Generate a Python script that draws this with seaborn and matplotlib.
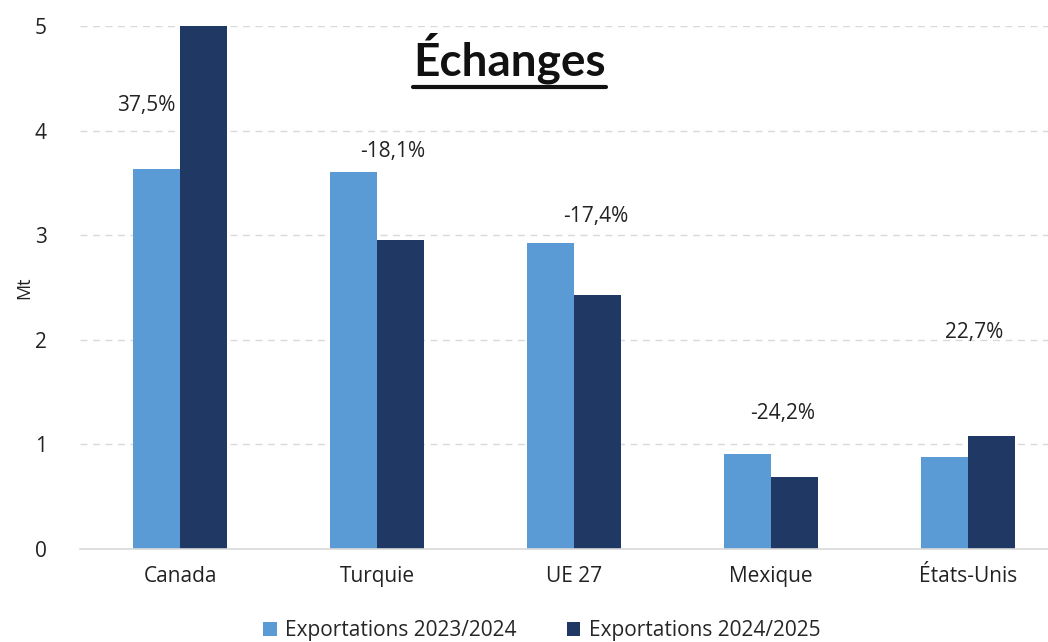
import matplotlib
matplotlib.use("Agg")
import matplotlib.pyplot as plt
from matplotlib.lines import Line2D
from matplotlib.patches import Patch
import pandas as pd
import seaborn as sns

# ---------------- data ----------------
pays = ["Canada", "Turquie", "UE 27", "Mexique", "États-Unis"]
series = ["Exportations 2023/2024", "Exportations 2024/2025"]
exp_2324 = [3.63, 3.60, 2.93, 0.91, 0.88]
exp_2425 = [5.00, 2.95, 2.43, 0.69, 1.08]
variations = ["37,5%", "-18,1%", "-17,4%", "-24,2%", "22,7%"]
# where each variation label sits (x offset from category, y in Mt)
label_dx = [-0.17, 0.08, 0.11, 0.06, 0.03]
label_y = [4.24, 3.80, 3.18, 1.30, 2.07]

df = pd.DataFrame({
    "pays": pays * 2,
    "serie": [series[0]] * 5 + [series[1]] * 5,
    "Mt": exp_2324 + exp_2425,
})

colors = ["#5B9BD5", "#1F3864"]

sns.set_style("white")
plt.rcParams["font.family"] = ["Open Sans", "DejaVu Sans"]

fig = plt.figure(figsize=(10.48, 6.42), dpi=100)
ax = fig.add_axes([0.0763, 0.1449, 0.9237, 0.8146])

sns.barplot(data=df, x="pays", y="Mt", hue="serie", palette=colors,
            width=0.48, saturation=1, linewidth=0, ax=ax, legend=False)

ax.set_ylim(0, 5)
ax.set_xlim(-0.508, 4.406)
ax.set_yticks([0, 1, 2, 3, 4, 5])
ax.yaxis.grid(True, linestyle=(0, (5, 4)), color="#d9d9d9", linewidth=1)
ax.set_axisbelow(True)
for s in ["top", "right", "left"]:
    ax.spines[s].set_visible(False)
ax.spines["bottom"].set_color("#d9d9d9")
ax.spines["bottom"].set_linewidth(1.2)
ax.tick_params(axis="both", length=0, labelsize=15, colors="#222222")
ax.tick_params(axis="x", pad=12)
ax.tick_params(axis="y", pad=24)
ax.set_xlabel("")
ax.set_ylabel("Mt", fontsize=13, color="#222222")
ax.yaxis.set_label_coords(-0.048, 0.5)

for i, txt in enumerate(variations):
    ax.text(i + label_dx[i], label_y[i], txt, ha="center", va="center",
            fontsize=15, color="#222222")

# title, underlined
title = fig.text(0.486, 0.91, "Échanges", ha="center", va="center",
                 fontsize=33, fontweight="bold", family=["Lato", "DejaVu Sans"],
                 color="#111111")
fig.canvas.draw()
bb = title.get_window_extent().transformed(fig.transFigure.inverted())
fig.add_artist(Line2D([bb.x0, bb.x1], [bb.y0 - 0.006, bb.y0 - 0.006],
                      transform=fig.transFigure, color="#111111", linewidth=3))

handles = [Patch(facecolor=c, edgecolor="none") for c in colors]
fig.legend(handles, series, loc="center", bbox_to_anchor=(0.517, 0.018),
           ncol=2, frameon=False, fontsize=15, handlelength=0.65,
           handleheight=0.65, handletextpad=0.4, columnspacing=2.4)

fig.savefig("out.png", dpi=100)
